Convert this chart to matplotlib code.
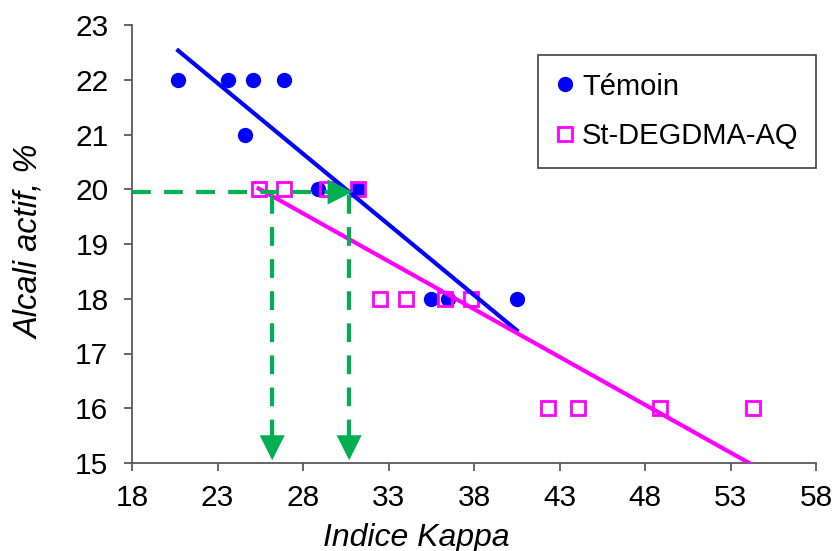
import numpy as np
import matplotlib.pyplot as plt

plt.rcParams['font.family'] = ['Liberation Sans', 'DejaVu Sans']

# Témoin (control pulp)
temoin_kappa = [20.7, 23.6, 25.1, 26.9, 24.6, 28.9, 31.2, 35.5, 36.5, 40.5]
temoin_alcali = [22, 22, 22, 22, 21, 20, 20, 18, 18, 18]

# St-DEGDMA-AQ
aq_kappa = [25.4, 26.9, 29.4, 31.2, 32.5, 34.0, 36.3, 37.8, 42.3, 44.1, 48.9, 54.3]
aq_alcali = [20, 20, 20, 20, 18, 18, 18, 18, 16, 16, 16, 16]

# kappa at 20 % active alkali (green arrows)
alcali_target = 19.95
kappa_target = [26.2, 30.7]

blue = '#0000FF'
magenta = '#FF00FF'
green = '#00B050'
axis_grey = '#595959'

fig = plt.figure(figsize=(8.34, 5.51), dpi=100)
ax = fig.add_axes([132 / 834, 1 - 463 / 551, 684 / 834, 438 / 551])

# points
ax.plot(temoin_kappa, temoin_alcali, 'o', ms=10, color=blue, label='Témoin', zorder=2)
ax.plot(aq_kappa, aq_alcali, 's', ms=10, mfc='none', mec=magenta, mew=2,
        label='St-DEGDMA-AQ', zorder=2)

# linear trend lines (least squares, drawn over the data range)
for xs, ys, col in [(temoin_kappa, temoin_alcali, blue), (aq_kappa, aq_alcali, magenta)]:
    slope, icpt = np.polyfit(xs, ys, 1)
    xx = np.array([min(xs), max(xs)])
    ax.plot(xx, slope * xx + icpt, color=col, lw=3, zorder=3)

# green dashed guides + arrow heads
head = dict(arrowstyle='-|>,head_length=1.0,head_width=0.5', mutation_scale=18,
            color=green, lw=0, shrinkA=0, shrinkB=0)
dash = dict(color=green, lw=3, dashes=(4.5, 3.2), zorder=4)

tip_x = kappa_target[1] + 0.2
ax.plot([18, tip_x - 0.8], [alcali_target, alcali_target], **dash)
ax.annotate('', xy=(tip_x, alcali_target), xytext=(tip_x - 1.0, alcali_target),
            arrowprops=head, zorder=5)
for k in kappa_target:
    ax.plot([k, k], [alcali_target - 0.05, 15.4], **dash)
    ax.annotate('', xy=(k, 15.05), xytext=(k, 15.6), arrowprops=head, zorder=5)

ax.set_xlim(18, 58)
ax.set_ylim(15, 23)
ax.set_xticks(range(18, 59, 5))
ax.set_yticks(range(15, 24))

for side in ['top', 'right']:
    ax.spines[side].set_visible(False)
for side in ['left', 'bottom']:
    ax.spines[side].set_color(axis_grey)
    ax.spines[side].set_linewidth(1.3)
ax.tick_params(direction='out', length=6, width=1.3, color=axis_grey, labelsize=21.5)
ax.tick_params(axis='x', pad=9)
ax.tick_params(axis='y', pad=11)

ax.set_xlabel('Indice Kappa', fontsize=23, style='italic')
ax.set_ylabel('Alcali actif, %', fontsize=23.5, style='italic')
ax.xaxis.set_label_coords(0.415, -0.137)
ax.yaxis.set_label_coords(-0.127, 0.505)

leg = ax.legend(loc='upper right', bbox_to_anchor=(1.0, 0.9315), borderaxespad=0,
                fontsize=21, fancybox=False, framealpha=1, edgecolor='#404040',
                handlelength=0.6, handletextpad=0.3, labelspacing=0.75, borderpad=0.6)
leg.get_frame().set_linewidth(1.2)

fig.savefig('out.png', dpi=100)
